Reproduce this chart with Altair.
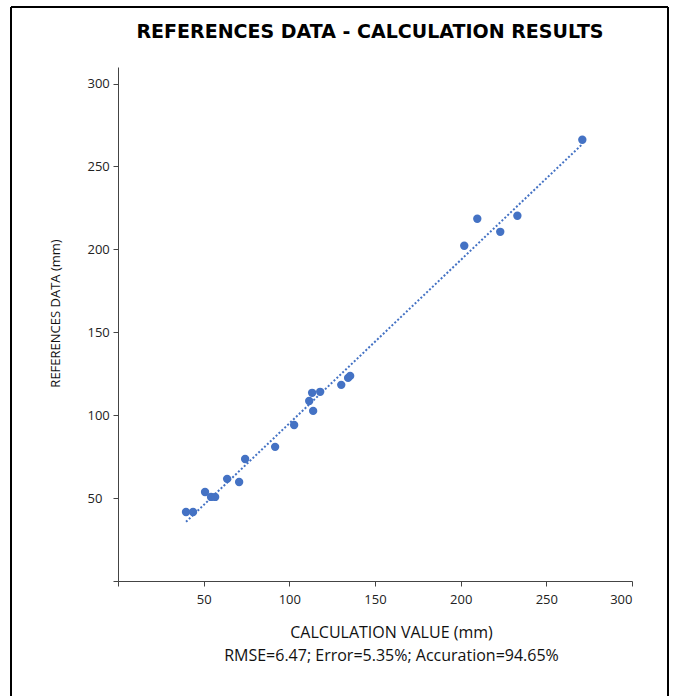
import altair as alt
import pandas as pd

# Calculation value (x) and reference data (y), in mm
calc_value = [39.7, 43.8, 50.8, 54.3, 56.7, 63.7, 70.7, 74.2, 91.7, 102.8, 111.6,
              113.3, 113.9, 118.0, 130.3, 134.3, 135.5, 202.1, 209.7, 223.1, 233.1, 271.0]
ref_data = [41.6, 41.6, 53.7, 50.7, 50.7, 61.6, 59.7, 73.6, 80.9, 94.1, 108.6,
            113.5, 102.6, 114.1, 118.3, 122.5, 123.7, 202.2, 218.5, 210.6, 220.3, 266.1]
tick_values = [0, 50, 100, 150, 200, 250, 300]

title_text = "REFERENCES DATA - CALCULATION RESULTS"
x_title = ["CALCULATION VALUE (mm)", "RMSE=6.47; Error=5.35%; Accuration=94.65%"]
y_title = "REFERENCES DATA (mm)"

df = pd.DataFrame({"calc": calc_value, "ref": ref_data})

BLUE = "#4472C4"
FONT = "Open Sans"

x_enc = alt.X(
    "calc:Q",
    scale=alt.Scale(domain=[0, 300], nice=False, zero=False),
    axis=alt.Axis(
        values=tick_values, grid=False, title=x_title,
        labelExpr="datum.value == 0 ? '' : datum.label",
        domainColor="#444444", tickColor="#444444", tickSize=5,
        labelFont=FONT, labelFontSize=13, labelColor="#222222", labelPadding=7,
        titleFont=FONT, titleFontSize=16, titleFontWeight="normal", titleColor="#111111",
        titleX=273, titleY=43, titleBaseline="top", titleAlign="center",
        titleAnchor="middle", titleLineHeight=23,
    ),
)
y_enc = alt.Y(
    "ref:Q",
    scale=alt.Scale(domain=[0, 310], nice=False, zero=False),
    axis=alt.Axis(
        values=tick_values, grid=False, title=y_title,
        labelExpr="datum.value == 0 ? '' : datum.label",
        domainColor="#444444", tickColor="#444444", tickSize=5,
        labelFont=FONT, labelFontSize=13, labelColor="#222222",
        labelAlign="left", labelPadding=26, labelBaseline="middle",
        titleFont=FONT, titleFontSize=13, titleFontWeight="normal", titleColor="#111111",
        titleX=-63, titleY=246, titleBaseline="middle", titleAlign="center", titleAngle=-90,
    ),
)

base = alt.Chart(df)

points = base.mark_circle(size=70, color=BLUE, opacity=1).encode(x=x_enc, y=y_enc)

trend = base.transform_regression("calc", "ref").mark_line(
    color=BLUE, strokeWidth=2, strokeDash=[2, 2]
).encode(x="calc:Q", y="ref:Q")

frame_top = alt.Chart(pd.DataFrame({"k": [0]})).mark_rule(color="black", strokeWidth=2).encode(
    x=alt.value(-107), x2=alt.value(550), y=alt.value(-60)
)
frame_left = alt.Chart(pd.DataFrame({"k": [0]})).mark_rule(color="black", strokeWidth=2).encode(
    x=alt.value(-107), y=alt.value(-60), y2=alt.value(640)
)
frame_right = alt.Chart(pd.DataFrame({"k": [0]})).mark_rule(color="black", strokeWidth=2).encode(
    x=alt.value(550), y=alt.value(-60), y2=alt.value(640)
)

chart = alt.layer(frame_top, frame_left, frame_right, trend, points).properties(
    width=514,
    height=514,
    autosize=alt.AutoSizeParams(type="none"),
    padding={"left": 118, "top": 67, "right": 44, "bottom": 115},
    title=alt.TitleParams(
        text=title_text, font="DejaVu Sans", fontSize=19, fontWeight="bold",
        color="black", anchor="middle", dx=-5, dy=36, offset=0,
    ),
).configure(background="white").configure_view(stroke="transparent", strokeWidth=0)

chart.save("out.html", embed_options={"renderer": "svg", "actions": False})
